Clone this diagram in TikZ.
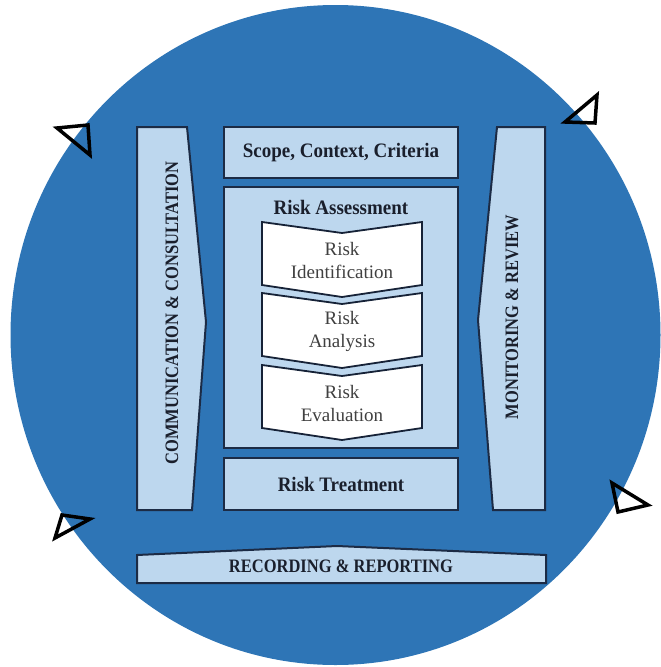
\documentclass[tikz,border=0pt]{standalone}
\usepackage{fontspec}
\setmainfont{Liberation Serif}
\definecolor{circblue}{HTML}{2E75B6}
\definecolor{boxfill}{HTML}{BDD7EE}
\definecolor{boxline}{HTML}{1C2B45}
\definecolor{darktext}{HTML}{1A1F2C}
\definecolor{graytext}{HTML}{404040}
\newcommand{\tallcaps}[1]{\scalebox{1}[1.15]{#1}}
\newcommand{\tallbold}[1]{\scalebox{1}[1.08]{#1}}
\tikzset{
  panel/.style={fill=boxfill, draw=boxline, line width=2pt, line join=miter},
  chev/.style={fill=white, draw=boxline!80!black, line width=1.8pt, line join=miter},
  tri/.style={draw=black, line width=3.5pt, line join=miter},
  boldlbl/.style={text=darktext, font=\fontsize{19}{23}\selectfont\bfseries, inner sep=0pt},
  capslbl/.style={text=darktext, font=\fontsize{16.5}{20}\selectfont\bfseries, inner sep=0pt},
  chevlbl/.style={text=graytext, font=\fontsize{19}{23}\selectfont, align=center, inner sep=0pt}
}
\begin{document}
\begin{tikzpicture}[x=1pt,y=-1pt]
\useasboundingbox (0,0) rectangle (661,667);
% background circle
\fill[circblue] (335.5,335) ellipse [x radius=325, y radius=330];
% arrowheads on circle
\draw[tri] (57,128) -- (88,125) -- (90,155) -- cycle;
\draw[tri] (597,95) -- (565,122) -- (595,123) -- cycle;
\draw[tri] (62,515) -- (90,519) -- (55,538) -- cycle;
\draw[tri] (612,483) -- (648,505) -- (618,512) -- cycle;
% left and right tall arrows
\draw[panel] (137,127) -- (187,127) -- (206,322) -- (192,510) -- (137,510) -- cycle;
\draw[panel] (497,127) -- (545,127) -- (545,510) -- (493,510) -- (478,320) -- cycle;
% central boxes
\draw[panel] (224,127) rectangle (458,178);
\draw[panel] (224,187) rectangle (458,448);
\draw[panel] (224,458) rectangle (458,510);
% recording & reporting
\draw[panel] (137,555) -- (337,546) -- (546,555) -- (546,583) -- (137,583) -- cycle;
% chevrons
\foreach \t in {222,293,365}{
  \draw[chev] (262,\t) -- (342,\t+11) -- (422,\t) -- (422,\t+63) -- (342,\t+75) -- (262,\t+63) -- cycle;
}
% labels
\node[capslbl, rotate=90] (comm) at (172,313) {\tallcaps{COMMUNICATION \& CONSULTATION}};
\node[capslbl, rotate=90] (mon) at (512,317) {\tallcaps{MONITORING \& REVIEW}};
\node[boldlbl] (scope) at (341,153) {\tallbold{Scope, Context, Criteria}};
\node[boldlbl] (assess) at (341,207) {\tallbold{Risk Assessment}};
\node[boldlbl] (treat) at (341,484) {\tallbold{Risk Treatment}};
\node[capslbl] (rec) at (341,566) {\tallcaps{RECORDING \& REPORTING}};
\node[chevlbl] (ident) at (342,260) {Risk\\Identification};
\node[chevlbl] (anal) at (342,331) {Risk\\Analysis};
\node[chevlbl] (eval) at (342,403) {Risk\\Evaluation};
\end{tikzpicture}
\end{document}
